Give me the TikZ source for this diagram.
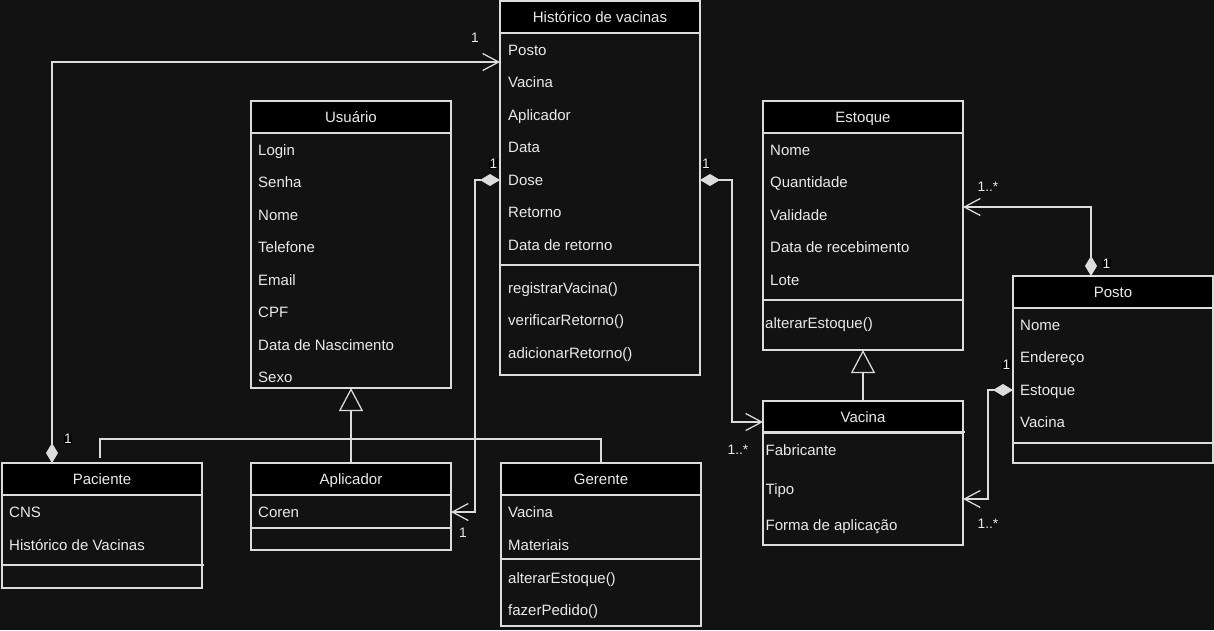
\documentclass[tikz,border=0pt]{standalone}
\usepackage{fontspec}
\setmainfont{Liberation Sans}
\usetikzlibrary{arrows.meta,calc}
\definecolor{bg}{HTML}{121212}
\definecolor{lc}{HTML}{DCDCDC}
\definecolor{tc}{HTML}{EAEAEA}
\newcommand\clsfont{\fontsize{15}{18}\selectfont}
\newcommand\labfont{\fontsize{13.75}{16}\selectfont}
\tikzset{
  box/.style={draw=lc, line width=1.25pt, fill=bg, anchor=north west,
    inner sep=0pt, outer sep=0pt, minimum width=200pt},
  head/.style={draw=lc, line width=1.25pt, fill=black, text=tc, anchor=north west,
    inner sep=0pt, outer sep=0pt, minimum width=200pt, minimum height=32pt,
    text height=12.5pt, text depth=1.5pt, font=\clsfont},
  attr/.style={anchor=west, text=tc, inner sep=0pt, text height=12.5pt, text depth=1.5pt, font=\clsfont},
  sepline/.style={draw=lc, line width=1.25pt},
  conn/.style={draw=lc, line width=1.25pt},
  diam/.style={{Diamond[length=20pt,width=12pt]}-{Straight Barb[length=16pt,width=17pt]}},
  genl/.style={-{Triangle[open,length=23pt,width=24pt,fill=bg]}},
  lab/.style={text=tc, inner sep=0.4pt, font=\labfont},
  labbg/.style={lab, fill=black},
}
\begin{document}
\begin{tikzpicture}[x=1pt,y=-1pt]
\fill[bg] (0,0) rectangle (1214,630);
\useasboundingbox (0,0) rectangle (1214,630);

% ---- Histórico de vacinas
\node[box, minimum height=374pt] (hist) at (500,1) {};
\node[head] (hist-h) at (500,1) {Histórico de vacinas};
\node[attr] (hist-a1) at (508,50) {Posto};
\node[attr] (hist-a2) at (508,82) {Vacina};
\node[attr] (hist-a3) at (508,115) {Aplicador};
\node[attr] (hist-a4) at (508,147) {Data};
\node[attr] (hist-a5) at (508,180) {Dose};
\node[attr] (hist-a6) at (508,212) {Retorno};
\node[attr] (hist-a7) at (508,245) {Data de retorno};
\draw[sepline] ($(hist.north west)+(0,264)$) -- ($(hist.north east)+(0,264)$);
\node[attr] (hist-m1) at (508,288) {registrarVacina()};
\node[attr] (hist-m2) at (508,320) {verificarRetorno()};
\node[attr] (hist-m3) at (508,353) {adicionarRetorno()};

% ---- Usuário
\node[box, minimum height=287pt] (usr) at (251,101) {};
\node[head] (usr-h) at (251,101) {Usuário};
\node[attr] (usr-a1) at (258,150) {Login};
\node[attr] (usr-a2) at (258,182) {Senha};
\node[attr] (usr-a3) at (258,215) {Nome};
\node[attr] (usr-a4) at (258,247) {Telefone};
\node[attr] (usr-a5) at (258,280) {Email};
\node[attr] (usr-a6) at (258,312) {CPF};
\node[attr] (usr-a7) at (258,345) {Data de Nascimento};
\node[attr] (usr-a8) at (258,377) {Sexo};

% ---- Estoque
\node[box, minimum height=249pt] (est) at (763,101) {};
\node[head] (est-h) at (763,101) {Estoque};
\node[attr] (est-a1) at (770,150) {Nome};
\node[attr] (est-a2) at (770,182) {Quantidade};
\node[attr] (est-a3) at (770,215) {Validade};
\node[attr] (est-a4) at (770,247) {Data de recebimento};
\node[attr] (est-a5) at (770,280) {Lote};
\draw[sepline] ($(est.north west)+(0,199)$) -- ($(est.north east)+(0,199)$);
\node[attr] (est-m1) at (765,323) {alterarEstoque()};

% ---- Posto
\node[box, minimum height=187pt] (pos) at (1013,276) {};
\node[head] (pos-h) at (1013,276) {Posto};
\node[attr] (pos-a1) at (1020,325) {Nome};
\node[attr] (pos-a2) at (1020,357) {Endereço};
\node[attr] (pos-a3) at (1020,390) {Estoque};
\node[attr] (pos-a4) at (1020,422) {Vacina};
\draw[sepline] ($(pos.north west)+(0,167)$) -- ($(pos.north east)+(0,167)$);

% ---- Vacina
\node[box, minimum height=144pt] (vac) at (763,401) {};
\node[head] (vac-h) at (763,401) {Vacina};
\draw[sepline] ($(vac.north west)+(0,31)$) -- ($(vac.north east)+(2,31)$);
\node[attr] (vac-a1) at (765.5,450) {Fabricante};
\node[attr] (vac-a2) at (765.5,489) {Tipo};
\node[attr] (vac-a3) at (765.5,525) {Forma de aplicação};

% ---- Paciente
\node[box, minimum height=125pt] (pac) at (2,463) {};
\node[head] (pac-h) at (2,463) {Paciente};
\node[attr] (pac-a1) at (9,512) {CNS};
\node[attr] (pac-a2) at (9,545) {Histórico de Vacinas};
\draw[sepline] ($(pac.north west)+(0,102)$) -- ($(pac.north east)+(2,102)$);

% ---- Aplicador
\node[box, minimum height=87pt] (apl) at (251,463) {};
\node[head] (apl-h) at (251,463) {Aplicador};
\node[attr] (apl-a1) at (258,512) {Coren};
\draw[sepline] ($(apl.north west)+(0,65)$) -- ($(apl.north east)+(0,65)$);

% ---- Gerente
\node[box, minimum height=163pt] (ger) at (501,463) {};
\node[head] (ger-h) at (501,463) {Gerente};
\node[attr] (ger-a1) at (508,512) {Vacina};
\node[attr] (ger-a2) at (508,545) {Materiais};
\draw[sepline] ($(ger.north west)+(0,96)$) -- ($(ger.north east)+(1,96)$);
\node[attr] (ger-m1) at (508,578) {alterarEstoque()};
\node[attr] (ger-m2) at (508,610) {fazerPedido()};

% ---- generalisations
\draw[conn, genl] (apl.north) -- (usr.south);
\coordinate (bar) at ($(usr.south)+(0,51)$);
\draw[conn] ($(pac.north)+(-2,-5)$) |- (bar) -| (ger.north);
\draw[conn, genl] (vac.north) -- (est.south);

% ---- associations
\draw[conn, diam] ($(pac.north west)+(50,0)$) |- ($(hist.north west)+(0,61)$);
\draw[conn, diam] (hist.west |- hist-a5) -- ++(-25,0) |- (apl.east |- apl-a1);
\draw[conn, diam] (hist.east |- hist-a5) -- ++(32,0) |- ($(vac.north west)+(0,21)$);
\draw[conn, diam] ($(pos.north west)+(78,0)$) |- ($(est.north east)+(0,106)$);
\draw[conn, diam] (pos.west |- pos-a3) -- ++(-25,0) |- ($(vac.north east)+(0,98)$);

% ---- multiplicities
\node[lab] (m1) at (475,38) {1};
\node[labbg] (m2) at (68,439) {1};
\node[labbg] (m3) at (493.5,164) {1};
\node[lab] (m4) at (463,533) {1};
\node[labbg] (m5) at (706,164) {1};
\node[lab] (m6) at (738,450) {1..*};
\node[lab] (m7) at (988,187) {1..*};
\node[labbg] (m8) at (1106.5,264) {1};
\node[labbg] (m9) at (1006.5,365) {1};
\node[lab] (m10) at (988,524) {1..*};
\end{tikzpicture}
\end{document}
